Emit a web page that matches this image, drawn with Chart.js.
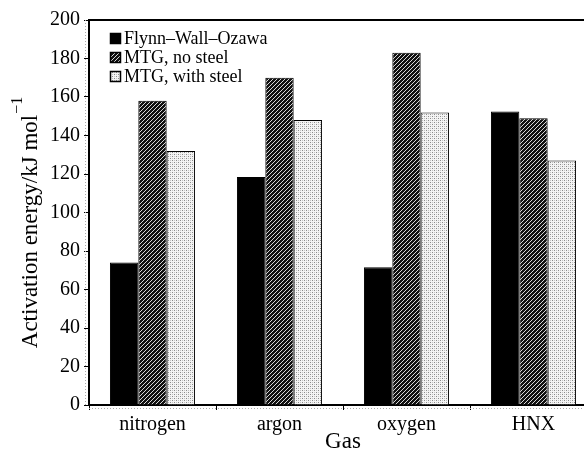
<!DOCTYPE html>
<html>
<head>
<meta charset="utf-8">
<script src="https://cdn.jsdelivr.net/npm/chart.js@4.4.0/dist/chart.umd.min.js"></script>
<style>
  html, body { margin: 0; padding: 0; background: #fff; overflow: hidden; }
  #wrap { width: 600px; height: 453px; }
</style>
</head>
<body>
<div id="wrap"><canvas id="chart" width="600" height="453"></canvas></div>
<script>
// Chart data
const gases = ['nitrogen', 'argon', 'oxygen', 'HNX'];
const seriesNames = ['Flynn\u2013Wall\u2013Ozawa', 'MTG, no steel', 'MTG, with steel'];
const flynnWallOzawa = [74, 118.5, 71.5, 152.5];
const mtgNoSteel = [158, 170, 183, 149];
const mtgWithSteel = [132, 148, 152, 127];
const yTicks = [0, 20, 40, 60, 80, 100, 120, 140, 160, 180, 200];

const serif = '"Liberation Serif", "DejaVu Serif", serif';

// Fill patterns for the bars
const makePattern = (draw, size) => {
  const c = document.createElement('canvas');
  c.width = size; c.height = size;
  const g = c.getContext('2d');
  draw(g);
  return g.createPattern(c, 'repeat');
};

const ctx = document.getElementById('chart').getContext('2d');

const hatch = makePattern(g => {
  g.fillStyle = '#111';
  g.fillRect(0, 0, 4, 4);
  g.fillStyle = '#d8d8d8';
  // diagonal "/" lines, one pixel per row
  for (let i = 0; i < 4; i++) g.fillRect(3 - i, i, 1, 1);
}, 4);

const stipple = makePattern(g => {
  g.fillStyle = '#f4f4f4';
  g.fillRect(0, 0, 4, 4);
  g.fillStyle = '#8a8a8a';
  g.fillRect(0, 0, 1, 1);
  g.fillRect(2, 2, 1, 1);
  g.fillStyle = '#c4c4c4';
  g.fillRect(2, 0, 1, 1);
  g.fillRect(0, 2, 1, 1);
}, 4);

const fills = ['#000', hatch, stipple];

// Frame, dotted guides, legend and y title
const decor = {
  id: 'decor',
  afterDraw(chart) {
    const { ctx, chartArea: a } = chart;
    ctx.save();
    // top border
    ctx.strokeStyle = '#000';
    ctx.lineWidth = 2;
    ctx.beginPath();
    ctx.moveTo(a.left, a.top);
    ctx.lineTo(a.right, a.top);
    ctx.stroke();
    // dotted guides
    ctx.strokeStyle = '#aaa';
    ctx.lineWidth = 1;
    ctx.setLineDash([1, 2]);
    ctx.beginPath();
    ctx.moveTo(a.left - 3.5, a.top);
    ctx.lineTo(a.left - 3.5, a.bottom);
    ctx.moveTo(a.left, a.bottom + 3.5);
    ctx.lineTo(a.right, a.bottom + 3.5);
    ctx.stroke();
    ctx.setLineDash([]);

    // legend
    ctx.font = '18px ' + serif;
    ctx.textBaseline = 'middle';
    ctx.textAlign = 'left';
    seriesNames.forEach((name, i) => {
      const y = 38 + i * 19;
      ctx.fillStyle = fills[i];
      ctx.fillRect(110, y - 5, 11, 11);
      ctx.strokeStyle = '#000';
      ctx.lineWidth = 1.5;
      ctx.strokeRect(110.5, y - 4.5, 10, 10);
      ctx.fillStyle = '#000';
      ctx.fillText(name, 124, y + 1);
    });

    // y axis title with superscript
    const main = 'Activation energy/kJ mol';
    const sup = '\u22121';
    ctx.translate(31, 223);
    ctx.rotate(-Math.PI / 2);
    ctx.font = '23px ' + serif;
    const w1 = ctx.measureText(main).width;
    ctx.font = '16px ' + serif;
    const w2 = ctx.measureText(sup).width;
    const start = -(w1 + w2) / 2;
    ctx.textAlign = 'left';
    ctx.textBaseline = 'middle';
    ctx.font = '23px ' + serif;
    ctx.fillText(main, start, 0);
    ctx.font = '16px ' + serif;
    ctx.fillText(sup, start + w1 + 1, -13);
    ctx.restore();
  }
};

new Chart(ctx, {
  type: 'bar',
  data: {
    labels: gases,
    datasets: [
      { label: seriesNames[0], data: flynnWallOzawa },
      { label: seriesNames[1], data: mtgNoSteel },
      { label: seriesNames[2], data: mtgWithSteel }
    ].map((d, i) => ({
      ...d,
      backgroundColor: fills[i],
      borderColor: '#000',
      borderWidth: 1,
      categoryPercentage: 0.67,
      barPercentage: 1.0
    }))
  },
  options: {
    responsive: false,
    animation: false,
    layout: { padding: { top: 20, right: 3, left: 0, bottom: 0 } },
    plugins: {
      legend: { display: false },
      tooltip: { enabled: false }
    },
    scales: {
      x: {
        border: { display: true, color: '#000', width: 2 },
        grid: { display: true, drawOnChartArea: false, drawTicks: true, tickLength: 5, color: '#000', lineWidth: 1 },
        ticks: { color: '#000', font: { family: serif, size: 20 }, padding: 3 },
        title: { display: true, text: 'Gas', color: '#000', font: { family: serif, size: 23 }, padding: { top: 0, bottom: -3 } },
        afterFit: s => { s.height = 48; }
      },
      y: {
        min: 0,
        max: 200,
        afterBuildTicks: s => { s.ticks = yTicks.map(v => ({ value: v })); },
        border: { display: true, color: '#000', width: 2 },
        grid: { display: true, drawOnChartArea: false, drawTicks: true, tickLength: 5, color: '#000', lineWidth: 1 },
        ticks: { color: '#000', font: { family: serif, size: 20 }, padding: 4 },
        afterFit: s => { s.width = 89; }
      }
    }
  },
  plugins: [decor]
});
</script>
</body>
</html>
